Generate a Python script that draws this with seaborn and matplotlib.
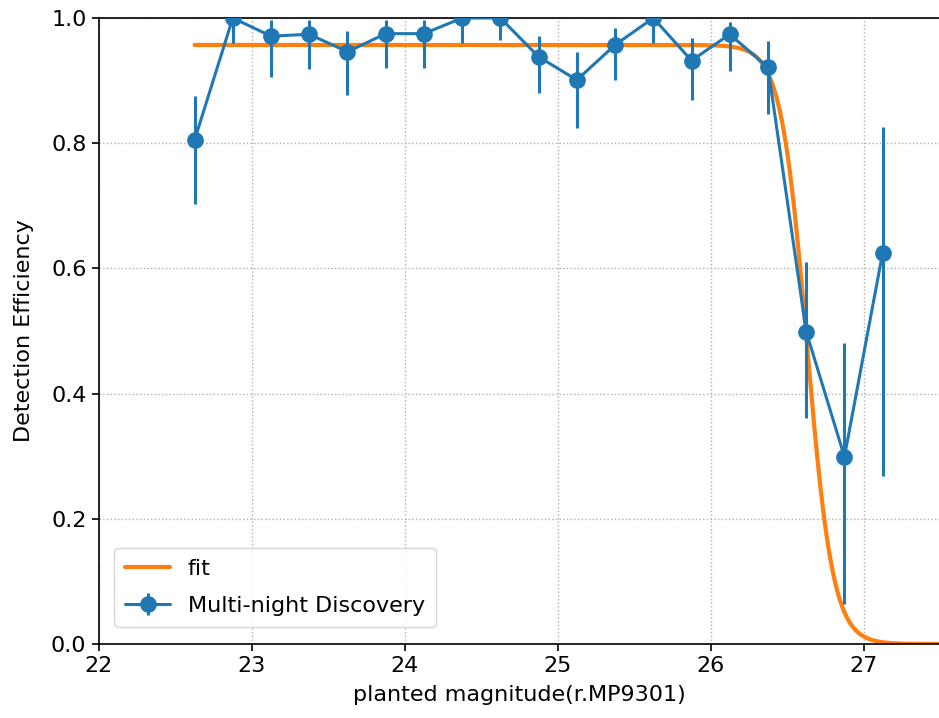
import numpy as np
import pandas as pd
import matplotlib
matplotlib.use("Agg")
import matplotlib.pyplot as plt
import seaborn as sns

# Binned detection efficiency with asymmetric uncertainties
mag = [22.625, 22.875, 23.125, 23.375, 23.625, 23.875, 24.125, 24.375, 24.625,
       24.875, 25.125, 25.375, 25.625, 25.875, 26.125, 26.375, 26.625, 26.875, 27.125]
eff = [0.805, 1.0, 0.971, 0.974, 0.946, 0.975, 0.975, 1.0, 1.0,
       0.938, 0.901, 0.957, 1.0, 0.932, 0.974, 0.921, 0.499, 0.299, 0.625]
eff_lo = [0.703, 0.960, 0.905, 0.918, 0.877, 0.920, 0.920, 0.960, 0.965,
          0.880, 0.824, 0.901, 0.960, 0.869, 0.916, 0.847, 0.361, 0.064, 0.268]
eff_hi = [0.875, 1.0, 0.997, 0.997, 0.980, 0.997, 0.997, 1.0, 1.0,
          0.971, 0.946, 0.984, 1.0, 0.968, 0.994, 0.963, 0.611, 0.481, 0.826]

# Fitted efficiency model: plateau times a logistic roll-off
eta0 = 0.957
m_half = 26.63
width = 0.085
m_fit = np.linspace(22.625, 27.6, 800)
eff_fit = eta0 / (1.0 + np.exp((m_fit - m_half) / width))

sns.set_theme(style="white")
plt.rcParams["font.family"] = ["DejaVu Sans"]
plt.rcParams["text.color"] = "black"
plt.rcParams["axes.labelcolor"] = "black"
plt.rcParams["xtick.color"] = "black"
plt.rcParams["ytick.color"] = "black"

fig = plt.figure(figsize=(9.39, 7.18), dpi=100)
ax = fig.add_axes([99 / 939, 74 / 718, 841 / 939, 626 / 718])

fit_df = pd.DataFrame({"mag": m_fit, "eff": eff_fit})
sns.lineplot(data=fit_df, x="mag", y="eff", ax=ax, color="#ff7f0e",
             linewidth=3, label="fit", zorder=2)

eff_arr = np.array(eff)
yerr = [eff_arr - np.array(eff_lo), np.array(eff_hi) - eff_arr]
ax.errorbar(mag, eff, yerr=yerr, color="#1f77b4", marker="o", markersize=11,
            linewidth=2.2, elinewidth=2.2, capsize=0, label="Multi-night Discovery",
            zorder=3)

ax.set_xlim(22, 27.5)
ax.set_ylim(0, 1.0)
ax.set_xticks([22, 23, 24, 25, 26, 27])
ax.set_yticks([0.0, 0.2, 0.4, 0.6, 0.8, 1.0])
ax.set_yticklabels(["0.0", "0.2", "0.4", "0.6", "0.8", "1.0"])
ax.grid(True, linestyle=":", color="#b0b0b0", linewidth=1)
ax.tick_params(axis="both", labelsize=16, direction="out", length=5,
               width=1.2, bottom=True, left=True, color="black", pad=4)
for s in ax.spines.values():
    s.set_color("black")
    s.set_linewidth(1.2)

ax.set_xlabel("planted magnitude(r.MP9301)", fontsize=16, labelpad=6)
ax.set_ylabel("Detection Efficiency", fontsize=16, labelpad=12)

ax.legend(loc="lower left", fontsize=16, frameon=True, framealpha=0.8,
          edgecolor="#cccccc", borderpad=0.5, labelspacing=0.75,
          handlelength=2.0, bbox_to_anchor=(0.005, 0.01))

fig.savefig("out.png", dpi=100)
